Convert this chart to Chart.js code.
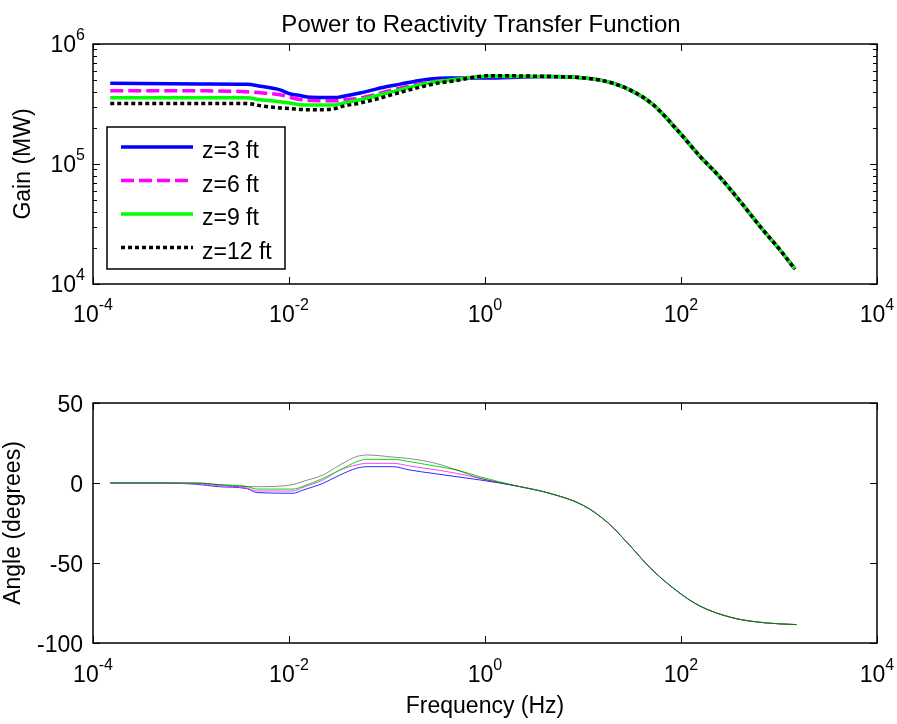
<!DOCTYPE html>
<html><head><meta charset="utf-8">
<script src="https://cdn.jsdelivr.net/npm/chart.js@4.4.0/dist/chart.umd.min.js"></script>
<style>
html,body{margin:0;padding:0;background:#fff;}
#wrap{position:relative;width:897px;height:724px;overflow:hidden;background:#fff;}
canvas{position:absolute;left:0;}
#c1{top:0;} #c2{top:340px;}
</style></head><body>
<div id="wrap"><canvas id="c1" width="897" height="340"></canvas><canvas id="c2" width="897" height="384"></canvas></div>
<script>
// ---- data ----
const seriesLabels = ['z=3 ft', 'z=6 ft', 'z=9 ft', 'z=12 ft'];

// Gain plot (frequency in Hz, gain in MW)
const gainFreq = [1.5e-4, 1.3e-3, 3.7e-3, 5.1e-3, 8.1e-3, 0.0102, 0.0129, 0.0164, 0.0207, 0.031, 0.033, 0.053, 0.072, 0.085, 0.136, 0.233, 0.347, 0.44, 1.12, 4.3, 10, 17.6, 30, 52, 97, 156, 250, 400, 640, 1020, 1455];
const gainZ3  = [4.72e5, 4.65e5, 4.63e5, 4.45e5, 4.15e5, 3.85e5, 3.72e5, 3.6e5, 3.59e5, 3.59e5, 3.62e5, 3.9e5, 4.15e5, 4.3e5, 4.63e5, 5.02e5, 5.19e5, 5.2e5, 5.2e5, 5.36e5, 5.22e5, 4.86e5, 4.15e5, 3.12e5, 1.82e5, 1.16e5, 7.76e4, 4.9e4, 3.02e4, 1.93e4, 1.33e4];
const gainZ6  = [4.07e5, 4.07e5, 4.0e5, 3.92e5, 3.78e5, 3.6e5, 3.45e5, 3.38e5, 3.37e5, 3.37e5, 3.4e5, 3.54e5, 3.75e5, 3.9e5, 4.29e5, 4.72e5, 4.95e5, 5.02e5, 5.36e5, 5.36e5, 5.22e5, 4.86e5, 4.15e5, 3.12e5, 1.82e5, 1.16e5, 7.76e4, 4.9e4, 3.02e4, 1.93e4, 1.33e4];
const gainZ9  = [3.56e5, 3.56e5, 3.56e5, 3.43e5, 3.3e5, 3.22e5, 3.12e5, 3.1e5, 3.1e5, 3.12e5, 3.17e5, 3.43e5, 3.65e5, 3.78e5, 4.15e5, 4.63e5, 4.9e5, 5.02e5, 5.39e5, 5.36e5, 5.22e5, 4.86e5, 4.15e5, 3.12e5, 1.82e5, 1.16e5, 7.76e4, 4.9e4, 3.02e4, 1.93e4, 1.33e4];
const gainZ12 = [3.2e5, 3.2e5, 3.2e5, 3.06e5, 2.93e5, 2.9e5, 2.85e5, 2.83e5, 2.83e5, 2.92e5, 2.98e5, 3.22e5, 3.42e5, 3.54e5, 3.95e5, 4.43e5, 4.75e5, 4.86e5, 5.45e5, 5.36e5, 5.22e5, 4.86e5, 4.15e5, 3.12e5, 1.82e5, 1.16e5, 7.76e4, 4.9e4, 3.02e4, 1.93e4, 1.33e4];

// Phase plot (frequency in Hz, angle in degrees)
const angleFreq = [1.5e-4, 4.5e-4, 1.15e-3, 1.9e-3, 3.7e-3, 4.7e-3, 0.011, 0.0139, 0.0222, 0.0331, 0.049, 0.0625, 0.115, 0.172, 0.295, 0.518, 0.89, 2.12, 4.6, 10, 17.6, 30, 48, 91, 156, 339, 755, 1514];
const angleZ3  = [0, 0, -0.8, -2.3, -3.5, -6.0, -6.4, -4.4, -0.2, 5.0, 9.2, 10.2, 10.2, 8.1, 6.0, 3.9, 1.9, -1.9, -6.5, -13.9, -24.4, -39, -52.8, -67.5, -76.9, -84.3, -87.5, -88.5];
const angleZ6  = [0, 0, -0.4, -1.7, -3.1, -5.0, -5.0, -2.7, 1.9, 8.1, 11.3, 12.3, 12.3, 10.6, 8.5, 6.0, 2.9, -1.9, -6.5, -13.9, -24.4, -39, -52.8, -67.5, -76.9, -84.3, -87.5, -88.5];
const angleZ9  = [0, 0, 0, -1.0, -2.1, -3.8, -3.8, -2.1, 2.9, 8.1, 13.3, 14.8, 14.8, 13.3, 10.8, 8.1, 3.9, -1.9, -6.5, -13.9, -24.4, -39, -52.8, -67.5, -76.9, -84.3, -87.5, -88.5];
const angleZ12 = [0, 0, 0, -1.0, -2.3, -2.3, -1.0, 1.0, 5.0, 11.3, 16.5, 17.5, 16.2, 15.2, 12.7, 8.1, 2.9, -1.9, -6.5, -13.9, -24.4, -39, -52.8, -67.5, -76.9, -84.3, -87.5, -88.5];

// tick labels
const freqTickExps = [-4, -2, 0, 2, 4];
const gainTickExps = [4, 5, 6];
const angleTicks = [-100, -50, 0, 50];

const titleText = 'Power to Reactivity Transfer Function';
const gainAxisTitle = 'Gain (MW)';
const angleAxisTitle = 'Angle (degrees)';
const freqAxisTitle = 'Frequency (Hz)';

// ---- helpers ----
const FONT = '"Liberation Sans", Arial, Helvetica, sans-serif';
const BASE = 23, SUP = 16;
function pts(xs, ys){ return xs.map((x,i)=>({x:x, y:ys[i]})); }

function drawPow(ctx, exp, x, baseY, align){
  ctx.font = BASE + 'px ' + FONT;
  const wb = ctx.measureText('10').width;
  ctx.font = SUP + 'px ' + FONT;
  const es = String(exp);
  const ws = ctx.measureText(es).width;
  const total = wb + ws;
  let left = align === 'center' ? x - total/2 : x - total;
  ctx.textAlign = 'left';
  ctx.textBaseline = 'alphabetic';
  ctx.font = BASE + 'px ' + FONT;
  ctx.fillText('10', left, baseY);
  ctx.font = SUP + 'px ' + FONT;
  ctx.fillText(es, left + wb, baseY - 12);
}

function frameAndTicks(ctx, ca, xs, ys, xTicks, yMajor, yMinor){
  ctx.save();
  ctx.strokeStyle = '#000';
  ctx.lineWidth = 1;
  ctx.beginPath();
  xTicks.forEach(v=>{
    const px = Math.round(xs.getPixelForValue(v)) + 0.5;
    ctx.moveTo(px, ca.bottom); ctx.lineTo(px, ca.bottom - 7);
    ctx.moveTo(px, ca.top); ctx.lineTo(px, ca.top + 7);
  });
  yMajor.forEach(v=>{
    const py = Math.round(ys.getPixelForValue(v)) + 0.5;
    ctx.moveTo(ca.left, py); ctx.lineTo(ca.left + 7, py);
    ctx.moveTo(ca.right, py); ctx.lineTo(ca.right - 7, py);
  });
  (yMinor||[]).forEach(v=>{
    const py = Math.round(ys.getPixelForValue(v)) + 0.5;
    ctx.moveTo(ca.left, py); ctx.lineTo(ca.left + 4, py);
    ctx.moveTo(ca.right, py); ctx.lineTo(ca.right - 4, py);
  });
  ctx.stroke();
  ctx.lineWidth = 1.5;
  ctx.strokeRect(ca.left, ca.top, ca.right - ca.left, ca.bottom - ca.top);
  ctx.restore();
}

const topPlugin = {
  id: 'topDecor',
  afterDatasetsDraw(chart){
    const ctx = chart.ctx, ca = chart.chartArea;
    const xs = chart.scales.x, ys = chart.scales.y;
    const xt = freqTickExps.map(e=>Math.pow(10,e));
    const ymaj = gainTickExps.map(e=>Math.pow(10,e));
    const ymin = [];
    for (let e = gainTickExps[0]; e < gainTickExps[gainTickExps.length-1]; e++)
      for (let k = 2; k <= 9; k++) ymin.push(k*Math.pow(10,e));
    frameAndTicks(ctx, ca, xs, ys, xt, ymaj, ymin);
    ctx.save();
    ctx.fillStyle = '#000';
    freqTickExps.forEach(e=>drawPow(ctx, e, xs.getPixelForValue(Math.pow(10,e)), ca.bottom + 38, 'center'));
    gainTickExps.forEach(e=>drawPow(ctx, e, ca.left - 8, ys.getPixelForValue(Math.pow(10,e)) + 8, 'right'));
    ctx.font = '24px ' + FONT;
    ctx.textAlign = 'center'; ctx.textBaseline = 'alphabetic';
    ctx.fillText(titleText, 481, 32);
    ctx.font = BASE + 'px ' + FONT;
    ctx.save();
    ctx.translate(30, (ca.top + ca.bottom)/2);
    ctx.rotate(-Math.PI/2);
    ctx.fillText(gainAxisTitle, 0, 0);
    ctx.restore();
    // legend
    const L = 107, T = 127, R = 285, B = 269;
    ctx.fillStyle = '#fff';
    ctx.fillRect(L, T, R-L, B-T);
    ctx.strokeStyle = '#000'; ctx.lineWidth = 1.5;
    ctx.strokeRect(L, T, R-L, B-T);
    chart.data.datasets.forEach((ds, i)=>{
      const y = 147 + i*33.5;
      ctx.save();
      ctx.strokeStyle = ds.borderColor;
      ctx.lineWidth = ds.borderWidth;
      ctx.setLineDash(ds.borderDash || []);
      ctx.beginPath(); ctx.moveTo(121, y); ctx.lineTo(193, y); ctx.stroke();
      ctx.restore();
      ctx.fillStyle = '#000';
      ctx.font = BASE + 'px ' + FONT;
      ctx.textAlign = 'left';
      ctx.fillText(ds.label, 202, y + 11);
    });
    ctx.restore();
  }
};

const botPlugin = {
  id: 'botDecor',
  afterDatasetsDraw(chart){
    const ctx = chart.ctx, ca = chart.chartArea;
    const xs = chart.scales.x, ys = chart.scales.y;
    const xt = freqTickExps.map(e=>Math.pow(10,e));
    frameAndTicks(ctx, ca, xs, ys, xt, angleTicks, []);
    ctx.save();
    ctx.fillStyle = '#000';
    freqTickExps.forEach(e=>drawPow(ctx, e, xs.getPixelForValue(Math.pow(10,e)), ca.bottom + 39, 'center'));
    ctx.font = BASE + 'px ' + FONT;
    ctx.textAlign = 'right'; ctx.textBaseline = 'alphabetic';
    angleTicks.forEach(v=>ctx.fillText(String(v), ca.left - 10, ys.getPixelForValue(v) + 9));
    ctx.textAlign = 'center';
    ctx.fillText(freqAxisTitle, (ca.left + ca.right)/2, 373);
    ctx.save();
    ctx.translate(20, (ca.top + ca.bottom)/2);
    ctx.rotate(-Math.PI/2);
    ctx.fillText(angleAxisTitle, 0, 0);
    ctx.restore();
    ctx.restore();
  }
};

const hiddenScale = (type, min, max) => ({ type, min, max, display: false });

new Chart(document.getElementById('c1'), {
  type: 'line',
  data: { datasets: [
    { label: seriesLabels[0], data: pts(gainFreq, gainZ3),  borderColor: '#0000ff', borderWidth: 3.5, order: 3 },
    { label: seriesLabels[1], data: pts(gainFreq, gainZ6),  borderColor: '#ff00ff', borderWidth: 3.5, borderDash: [13,5], order: 2 },
    { label: seriesLabels[2], data: pts(gainFreq, gainZ9),  borderColor: '#00ff00', borderWidth: 3.5, order: 1 },
    { label: seriesLabels[3], data: pts(gainFreq, gainZ12), borderColor: '#000000', borderWidth: 3.5, borderDash: [4,3], order: 0 }
  ]},
  options: {
    responsive: false, animation: false, devicePixelRatio: 1,
    layout: { padding: { left: 93, right: 20, top: 44, bottom: 56 } },
    elements: { point: { radius: 0 }, line: { cubicInterpolationMode: 'monotone', fill: false, borderCapStyle: 'butt' } },
    scales: { x: hiddenScale('logarithmic', 1e-4, 1e4), y: hiddenScale('logarithmic', 1e4, 1e6) },
    plugins: { legend: { display: false }, tooltip: { enabled: false }, title: { display: false } }
  },
  plugins: [topPlugin]
});

new Chart(document.getElementById('c2'), {
  type: 'line',
  data: { datasets: [
    { label: seriesLabels[0], data: pts(angleFreq, angleZ3),  borderColor: '#2a2aff', borderWidth: 1, order: 3 },
    { label: seriesLabels[1], data: pts(angleFreq, angleZ6),  borderColor: '#ff40ff', borderWidth: 1, order: 2 },
    { label: seriesLabels[2], data: pts(angleFreq, angleZ9),  borderColor: '#00e000', borderWidth: 1, order: 1 },
    { label: seriesLabels[3], data: pts(angleFreq, angleZ12), borderColor: 'rgba(0,0,0,0.45)', borderWidth: 1, order: 0 }
  ]},
  options: {
    responsive: false, animation: false, devicePixelRatio: 1,
    layout: { padding: { left: 93, right: 20, top: 63, bottom: 81 } },
    elements: { point: { radius: 0 }, line: { cubicInterpolationMode: 'monotone', fill: false } },
    scales: { x: hiddenScale('logarithmic', 1e-4, 1e4), y: hiddenScale('linear', -100, 50) },
    plugins: { legend: { display: false }, tooltip: { enabled: false }, title: { display: false } }
  },
  plugins: [botPlugin]
});
</script>
</body></html>
